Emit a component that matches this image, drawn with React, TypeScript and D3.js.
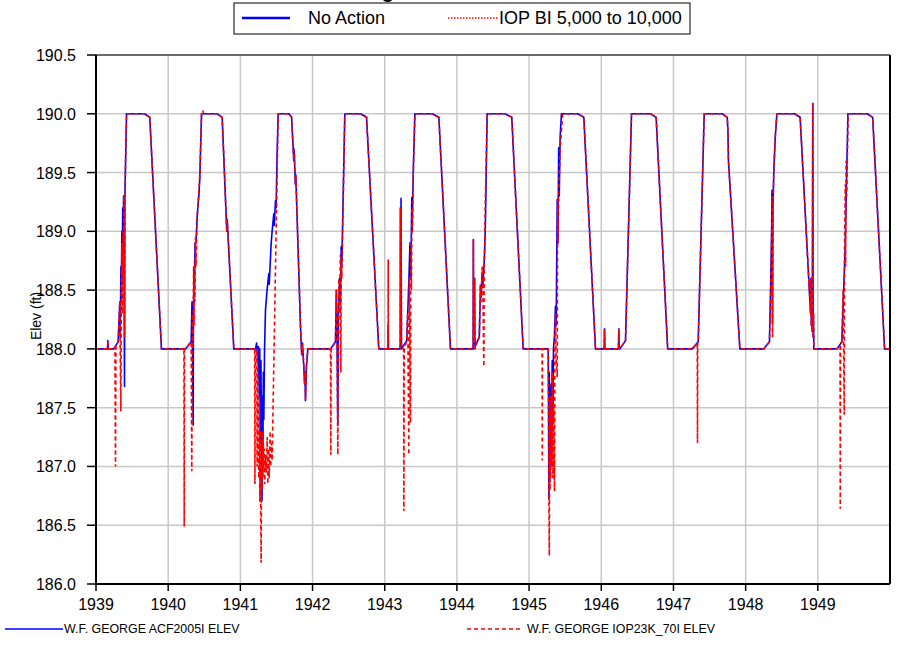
import React from "react";
import * as d3 from "d3";

const yearTicks = [1939, 1940, 1941, 1942, 1943, 1944, 1945, 1946, 1947, 1948, 1949];
const elevTicks = [186.0, 186.5, 187.0, 187.5, 188.0, 188.5, 189.0, 189.5, 190.0, 190.5];
const topLegendLabels = ["No Action", "IOP BI 5,000 to 10,000"];
const bottomLegendLabels = ["W.F. GEORGE ACF2005I ELEV", "W.F. GEORGE IOP23K_70I ELEV"];
const titleText = "W.F. George";
const yLabel = "Elev (ft)";

// [decimal year, elevation ft]
const noAction: [number, number][] = [
  [1939.000,188.00],[1939.160,188.00],[1939.164,188.07],[1939.168,188.00],[1939.247,188.00],[1939.307,188.06],
  [1939.330,188.40],[1939.336,188.10],[1939.345,188.70],[1939.350,188.40],[1939.358,189.00],[1939.362,188.60],[1939.370,189.20],[1939.375,188.80],[1939.382,189.30],[1939.388,188.90],[1939.395,187.68],[1939.400,189.30],[1939.410,189.60],[1939.423,190.00],
  [1939.672,190.00],[1939.745,189.97],[1939.907,188.00],
  [1940.240,188.00],[1940.318,188.06],[1940.330,188.40],[1940.336,188.10],[1940.346,187.35],[1940.350,188.30],[1940.358,188.70],[1940.364,188.50],[1940.372,188.90],[1940.385,188.90],[1940.400,189.10],[1940.410,189.20],[1940.425,189.30],[1940.438,189.45],[1940.462,190.00],
  [1940.679,190.00],[1940.748,189.97],[1940.812,189.00],[1940.818,189.10],[1940.909,188.00],
  [1941.210,188.00],[1941.225,188.05],[1941.240,187.90],[1941.250,188.02],[1941.262,187.60],[1941.268,188.00],[1941.278,187.20],[1941.285,187.90],[1941.300,186.71],[1941.306,187.60],[1941.312,187.00],[1941.318,187.80],[1941.325,187.40],[1941.335,188.00],[1941.348,188.33],[1941.370,188.50],[1941.394,188.64],[1941.400,188.55],[1941.426,188.89],[1941.440,189.00],[1941.463,189.15],[1941.470,189.05],[1941.486,189.26],[1941.495,189.20],[1941.510,189.69],[1941.524,190.00],
  [1941.672,190.00],[1941.710,189.97],[1941.740,189.60],[1941.745,189.70],[1941.762,189.40],[1941.768,189.48],[1941.833,188.19],[1941.850,187.95],[1941.860,188.05],[1941.879,187.85],[1941.890,187.70],[1941.895,187.80],[1941.902,187.56],[1941.915,187.85],[1941.935,188.00],
  [1942.249,188.00],[1942.318,188.06],[1942.330,188.50],[1942.338,188.20],[1942.350,187.35],[1942.360,188.30],[1942.375,188.60],[1942.385,188.40],[1942.397,188.87],[1942.405,188.70],[1942.447,190.00],
  [1942.665,190.00],[1942.748,189.97],[1942.918,188.00],
  [1943.045,188.00],[1943.048,188.20],[1943.051,188.00],[1943.215,188.00],[1943.218,189.20],[1943.222,188.05],[1943.226,189.28],[1943.232,188.00],[1943.305,188.07],[1943.330,188.50],[1943.350,188.90],[1943.360,188.60],[1943.375,189.29],[1943.380,189.00],[1943.395,189.50],[1943.417,190.00],
  [1943.658,190.00],[1943.750,189.97],[1943.911,188.00],
  [1944.225,188.00],[1944.228,188.93],[1944.232,188.05],[1944.240,188.10],[1944.245,188.60],[1944.250,188.00],[1944.258,188.03],[1944.310,188.10],[1944.327,188.54],[1944.335,188.45],[1944.350,188.65],[1944.360,188.55],[1944.375,188.70],[1944.385,188.85],[1944.396,189.10],[1944.419,190.00],
  [1944.664,190.00],[1944.760,189.97],[1944.918,188.00],
  [1945.265,188.00],[1945.270,187.50],[1945.274,186.72],[1945.280,187.80],[1945.286,186.90],[1945.292,187.60],[1945.298,187.10],[1945.305,187.70],[1945.312,187.20],[1945.320,187.90],[1945.330,187.40],[1945.338,188.00],[1945.350,188.10],[1945.365,188.36],[1945.375,188.20],[1945.390,189.27],[1945.400,188.90],[1945.410,189.71],[1945.418,189.30],[1945.430,189.80],[1945.448,190.00],
  [1945.675,190.00],[1945.758,189.97],[1945.920,188.00],
  [1946.040,188.00],[1946.045,188.17],[1946.050,188.00],[1946.238,188.00],[1946.243,188.17],[1946.248,188.00],[1946.257,188.00],[1946.336,188.07],[1946.419,190.00],
  [1946.682,190.00],[1946.760,189.97],[1946.920,188.00],
  [1947.260,188.00],[1947.343,188.06],[1947.426,190.00],[1947.675,190.00],[1947.745,189.97],[1947.755,189.85],[1947.762,189.60],[1947.920,188.00],
  [1948.250,188.00],[1948.330,188.06],[1948.345,188.50],[1948.360,189.00],[1948.365,189.35],[1948.372,188.22],[1948.378,189.20],[1948.390,189.50],[1948.410,189.80],[1948.433,190.00],
  [1948.676,190.00],[1948.755,189.97],[1948.900,188.30],[1948.905,188.60],[1948.910,188.20],[1948.915,188.50],[1948.920,188.15],[1948.925,188.40],[1948.930,190.09],[1948.935,188.10],[1948.940,188.30],[1948.945,188.00],
  [1949.265,188.00],[1949.333,188.06],[1949.380,188.88],[1949.417,190.00],[1949.685,190.00],[1949.760,189.97],[1949.925,188.00],[1950.000,188.00],
];

const iop: [number, number][] = [
  [1939.000,188.00],[1939.160,188.00],[1939.164,188.07],[1939.168,188.00],[1939.247,188.00],[1939.262,188.02],[1939.270,187.00],[1939.276,188.03],[1939.307,188.06],[1939.330,188.40],[1939.335,188.00],[1939.344,187.47],[1939.350,188.50],[1939.360,188.90],[1939.365,188.30],[1939.372,189.00],[1939.378,188.60],[1939.385,189.30],[1939.390,188.80],[1939.395,188.10],[1939.400,189.20],[1939.410,189.60],[1939.423,190.00],
  [1939.672,190.00],[1939.745,189.97],[1939.907,188.00],
  [1940.218,188.00],[1940.222,186.49],[1940.226,188.00],[1940.240,188.00],[1940.318,188.06],[1940.327,186.96],[1940.335,188.30],[1940.345,188.00],[1940.352,188.70],[1940.358,188.20],[1940.365,188.75],[1940.370,188.40],[1940.378,188.95],[1940.385,188.70],[1940.400,189.10],[1940.420,189.30],[1940.440,189.50],[1940.462,190.00],[1940.480,190.03],[1940.490,190.00],
  [1940.679,190.00],[1940.748,189.97],[1940.812,189.00],[1940.818,189.10],[1940.909,188.00],
  [1941.198,188.00],[1941.202,186.85],[1941.206,188.00],[1941.228,188.00],[1941.232,187.00],[1941.236,188.00],[1941.256,186.90],[1941.262,187.60],[1941.270,186.70],[1941.276,187.30],[1941.282,186.60],[1941.288,186.18],[1941.293,187.00],[1941.300,186.80],[1941.306,187.30],[1941.312,186.90],[1941.318,187.20],[1941.325,186.95],[1941.330,187.15],[1941.338,186.85],[1941.345,187.10],[1941.352,187.00],[1941.360,186.95],[1941.372,187.25],[1941.380,186.85],[1941.390,187.15],[1941.400,186.90],[1941.412,187.30],[1941.420,187.00],[1941.430,187.20],[1941.440,187.05],[1941.524,190.00],
  [1941.672,190.00],[1941.710,189.97],[1941.740,189.60],[1941.745,189.70],[1941.762,189.40],[1941.768,189.48],[1941.833,188.19],[1941.850,187.95],[1941.860,188.05],[1941.879,187.85],[1941.890,187.70],[1941.895,187.80],[1941.902,187.56],[1941.915,187.85],[1941.935,188.00],
  [1942.249,188.00],[1942.253,187.10],[1942.257,188.00],[1942.318,188.06],[1942.330,188.50],[1942.338,188.20],[1942.350,187.10],[1942.356,188.00],[1942.365,188.60],[1942.375,188.30],[1942.385,188.80],[1942.392,187.80],[1942.397,188.75],[1942.405,188.60],[1942.447,190.00],
  [1942.665,190.00],[1942.748,189.97],[1942.918,188.00],
  [1943.045,188.00],[1943.048,188.76],[1943.051,188.00],[1943.215,188.00],[1943.218,189.20],[1943.222,188.05],[1943.226,189.20],[1943.232,188.00],[1943.262,188.00],[1943.265,186.62],[1943.270,188.00],[1943.305,188.07],[1943.318,188.30],[1943.334,187.10],[1943.340,188.60],[1943.348,188.20],[1943.357,187.37],[1943.362,188.90],[1943.370,188.50],[1943.378,189.20],[1943.385,189.00],[1943.395,189.50],[1943.420,190.00],
  [1943.658,190.00],[1943.750,189.97],[1943.911,188.00],
  [1944.225,188.00],[1944.228,188.93],[1944.232,188.05],[1944.240,188.10],[1944.245,188.60],[1944.250,188.00],[1944.258,188.03],[1944.310,188.10],[1944.325,188.55],[1944.335,188.40],[1944.350,188.70],[1944.360,188.50],[1944.373,187.85],[1944.378,188.70],[1944.385,188.90],[1944.395,189.30],[1944.420,190.00],
  [1944.664,190.00],[1944.760,189.97],[1944.918,188.00],
  [1945.180,188.00],[1945.183,187.05],[1945.186,188.00],[1945.265,188.00],[1945.270,187.30],[1945.274,186.72],[1945.280,186.24],[1945.285,187.60],[1945.290,186.80],[1945.296,187.50],[1945.300,186.90],[1945.310,187.60],[1945.315,187.00],[1945.320,187.80],[1945.330,186.90],[1945.340,187.50],[1945.352,186.79],[1945.358,188.10],[1945.365,188.30],[1945.375,187.90],[1945.390,187.76],[1945.395,189.27],[1945.400,188.90],[1945.410,189.30],[1945.430,189.70],[1945.465,190.00],
  [1945.675,190.00],[1945.758,189.97],[1945.920,188.00],
  [1946.040,188.00],[1946.045,188.17],[1946.050,188.00],[1946.238,188.00],[1946.243,188.17],[1946.248,188.00],[1946.257,188.00],[1946.336,188.07],[1946.419,190.00],[1946.682,190.00],[1946.760,189.97],[1946.920,188.00],
  [1947.260,188.00],[1947.330,188.05],[1947.333,187.20],[1947.336,188.06],[1947.343,188.06],[1947.426,190.00],[1947.675,190.00],[1947.745,189.97],[1947.755,189.85],[1947.762,189.60],[1947.920,188.00],
  [1948.250,188.00],[1948.330,188.06],[1948.345,188.40],[1948.360,188.90],[1948.368,189.30],[1948.372,188.10],[1948.380,189.20],[1948.390,189.50],[1948.410,189.80],[1948.433,190.00],[1948.676,190.00],[1948.755,189.97],[1948.900,188.30],[1948.905,188.60],[1948.910,188.20],[1948.915,188.50],[1948.920,188.15],[1948.925,188.40],[1948.930,190.09],[1948.935,188.10],[1948.940,188.30],[1948.945,188.00],
  [1949.265,188.00],[1949.308,188.03],[1949.311,186.64],[1949.315,188.05],[1949.333,188.06],[1949.350,188.50],[1949.366,187.44],[1949.370,188.80],[1949.380,189.40],[1949.385,188.70],[1949.392,189.60],[1949.400,189.30],[1949.420,190.00],[1949.685,190.00],[1949.760,189.97],[1949.925,188.00],[1950.000,188.00],
];

const W = 899;
const H = 645;
const L = 96;
const R = 890;
const T = 55;
const B = 584;
const FONT = "Arial, 'Liberation Sans', Helvetica, sans-serif";

export default function App() {
  const x = d3.scaleLinear().domain([1939, 1950]).range([L, R]);
  const y = d3.scaleLinear().domain([186, 190.5]).range([B, T]);
  const line = d3
    .line<[number, number]>()
    .x((d) => x(d[0]))
    .y((d) => y(d[1]));

  return (
    <div style={{ position: "fixed", left: 0, top: 0, width: W, height: H, background: "#fff" }}>
      <svg width={W} height={H} style={{ display: "block", fontFamily: FONT }}>
        <defs>
          <clipPath id="plotClip">
            <rect x={L} y={T - 4} width={R - L} height={B - T + 4} />
          </clipPath>
        </defs>
        <rect x={0} y={0} width={W} height={H} fill="#fff" />
        {/* title, cut off at the top edge as in the reference */}
        <text x={405} y={-2} textAnchor="end" fontSize={20} fontWeight="bold" fill="#000">
          {titleText}
        </text>

        {/* gridlines */}
        {yearTicks.map((t) => (
          <line key={"gx" + t} x1={x(t)} x2={x(t)} y1={T} y2={B} stroke="#c8c8c8" strokeWidth={1.5} />
        ))}
        {elevTicks.map((v) => (
          <line key={"gy" + v} x1={L} x2={R} y1={y(v)} y2={y(v)} stroke="#c8c8c8" strokeWidth={1.5} />
        ))}

        {/* series */}
        <g clipPath="url(#plotClip)">
          <path d={line(noAction) || ""} fill="none" stroke="#0000ff" strokeWidth={1.6} strokeLinejoin="round" />
          <path d={line(iop) || ""} fill="none" stroke="#ff0000" strokeWidth={1.6} strokeDasharray="4,3" />
        </g>

        {/* frame */}
        <line x1={L} x2={R} y1={T} y2={T} stroke="#000" strokeWidth={1} />
        <line x1={R} x2={R} y1={T} y2={B} stroke="#000" strokeWidth={2} />
        <line x1={L} x2={L} y1={T} y2={B} stroke="#000" strokeWidth={2} />
        <line x1={L} x2={R} y1={B} y2={B} stroke="#000" strokeWidth={2} />

        {/* y ticks */}
        {elevTicks.map((v) => (
          <g key={"yt" + v}>
            <line x1={L - 9} x2={L} y1={y(v)} y2={y(v)} stroke="#000" strokeWidth={1.5} />
            <text x={L - 20} y={y(v) + 6} textAnchor="end" fontSize={16} fill="#000">
              {d3.format(".1f")(v)}
            </text>
          </g>
        ))}
        {/* x ticks */}
        {yearTicks.map((t) => (
          <g key={"xt" + t}>
            <line x1={x(t)} x2={x(t)} y1={B} y2={B + 7} stroke="#000" strokeWidth={1.5} />
            <text x={x(t)} y={610} textAnchor="middle" fontSize={16} fill="#000">
              {t}
            </text>
          </g>
        ))}

        {/* y label */}
        <text transform={`translate(41,316) rotate(-90)`} textAnchor="middle" fontSize={14} fill="#000">
          {yLabel}
        </text>

        {/* top legend */}
        <rect x={234} y={3} width={456} height={31} fill="#fff" stroke="#000" strokeWidth={1} />
        <line x1={242} x2={290} y1={18} y2={18} stroke="#0000ff" strokeWidth={2.5} />
        <text x={308} y={24} fontSize={18} fill="#000">{topLegendLabels[0]}</text>
        <line x1={448} x2={498} y1={18} y2={18} stroke="#ff0000" strokeWidth={1.5} strokeDasharray="1.5,1.5" />
        <text x={499} y={24} fontSize={18} fill="#000">{topLegendLabels[1]}</text>

        {/* bottom legend */}
        <line x1={5} x2={63} y1={629} y2={629} stroke="#0000ff" strokeWidth={1.5} />
        <text x={64} y={633} fontSize={12.4} fill="#000">{bottomLegendLabels[0]}</text>
        <line x1={467} x2={523} y1={629} y2={629} stroke="#ff0000" strokeWidth={1.5} strokeDasharray="4,3" />
        <text x={527} y={633} fontSize={12.4} fill="#000">{bottomLegendLabels[1]}</text>
      </svg>
    </div>
  );
}
